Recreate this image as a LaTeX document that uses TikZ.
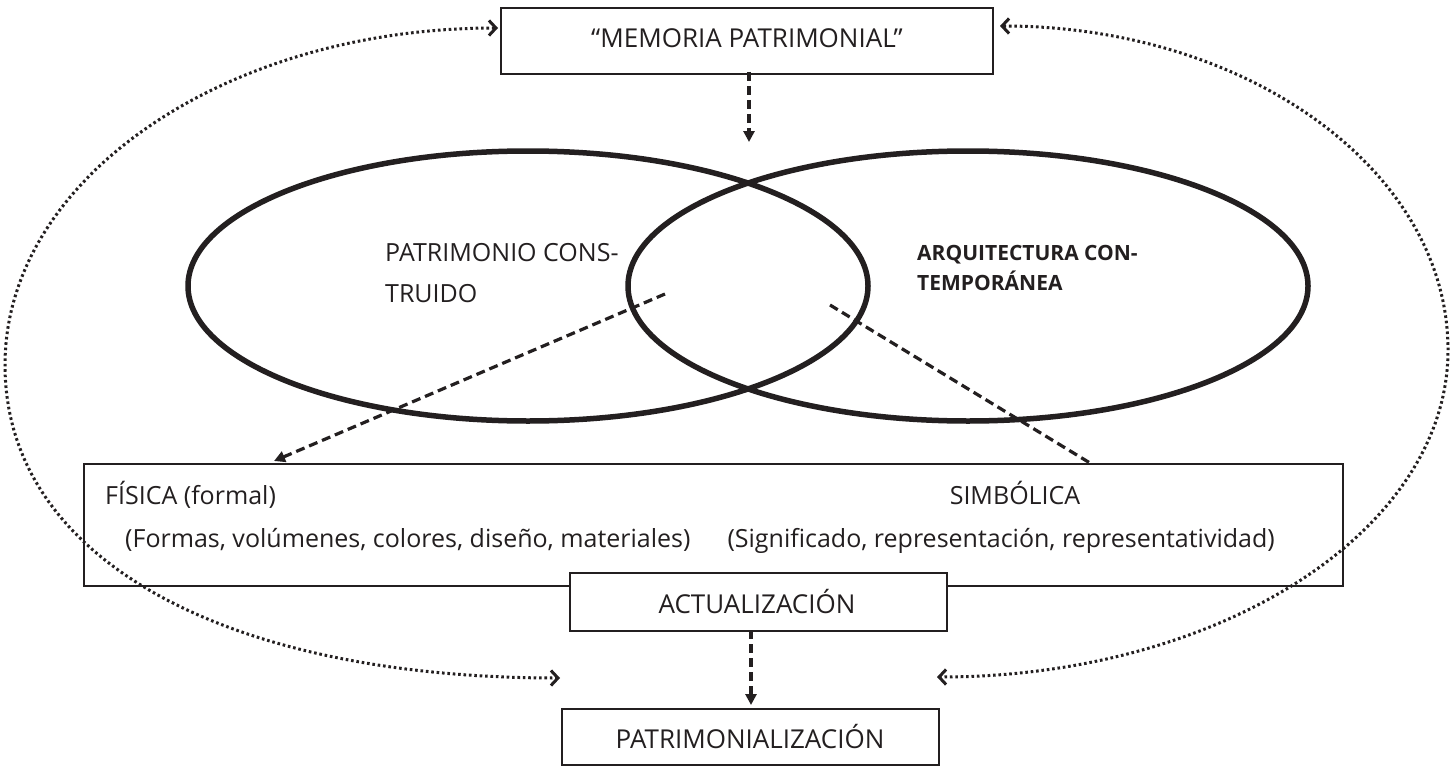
\documentclass[tikz,border=0pt]{standalone}
\usepackage{fontspec}
\setmainfont{Open Sans}
\usetikzlibrary{arrows.meta}
\definecolor{ink}{RGB}{35,31,32}
\tikzset{
  boxnode/.style={draw=ink, line width=2pt, fill=white, inner sep=0pt},
  txt/.style={text=ink, inner sep=0pt, font=\fontsize{25}{30}\selectfont},
  ctxt/.style={text=ink, inner sep=0pt, font=\fontsize{26}{31}\selectfont},
  etxt/.style={text=ink, inner sep=0pt, font=\fontsize{25}{30}\selectfont},
  btxt/.style={text=ink, inner sep=0pt, font=\fontsize{21}{25}\selectfont\bfseries},
  oval/.style={draw=ink, line width=5.5pt},
  dasharrow/.style={draw=ink, line width=3.2pt, dash pattern=on 9pt off 5pt, -{Triangle[length=11pt,width=11pt]}},
  dashline/.style={draw=ink, line width=3.2pt, dash pattern=on 9pt off 5pt},
  dotarrow/.style={draw=ink, line width=3pt, dash pattern=on 2.6pt off 2.8pt,
     {Straight Barb[length=7pt,width=15pt,line width=3pt]}-{Straight Barb[length=7pt,width=15pt,line width=3pt]}}
}
\begin{document}
\begin{tikzpicture}[x=1pt,y=-1pt]
\useasboundingbox (0,0) rectangle (1455,765);
\fill[white] (0,0) rectangle (1455,765);

% ellipses
\draw[oval] (528,286) ellipse [x radius=340, y radius=135];
\draw[oval] (968,286) ellipse [x radius=340, y radius=135];

% boxes
\node[boxnode, minimum width=492pt, minimum height=66pt] (mem) at (747,41) {};
\node[ctxt, anchor=base] (memt) at (747,48) {“MEMORIA PATRIMONIAL”};

\node[draw=ink, line width=2pt, inner sep=0pt, minimum width=1259pt, minimum height=122pt] (big) at (713.5,525) {};
\node[txt, anchor=base west] (fis) at (105,504) {FÍSICA (formal)};
\node[txt, anchor=base west] (fis2) at (125,547) {(Formas, volúmenes, colores, diseño, materiales)};
\node[txt, anchor=base east] (sim2) at (1275,547) {(Significado, representación, representatividad)};
\node[txt, anchor=base] (sim) at (1015,504) {SIMBÓLICA};

% ellipse texts
\node[etxt, anchor=base west] (pc1) at (385,261) {PATRIMONIO CONS-};
\node[etxt, anchor=base west] (pc2) at (385,302) {TRUIDO};
\node[btxt, anchor=base west] (ac1) at (917,260) {ARQUITECTURA CON-};
\node[btxt, anchor=base west] (ac2) at (917,290) {TEMPORÁNEA};

% dotted loops
\coordinate (lt) at (498,28);
\coordinate (lm) at (5,365);
\coordinate (lb) at (560,678);
\coordinate (rt) at (1000,26);
\coordinate (rm) at (1448,350);
\coordinate (rb) at (937,677);
\draw[dotarrow] (lt) .. controls (226,28) and (5,178) .. (lm)
   .. controls (5,560) and (227,678) .. (lb);
\draw[dotarrow] (rt) .. controls (1248,26) and (1448,171) .. (rm)
   .. controls (1448,531) and (1219,677) .. (rb);

\node[boxnode, minimum width=377pt, minimum height=58pt] (act) at (758.5,602) {};
\node[ctxt, anchor=base] (actt) at (757,613) {ACTUALIZACIÓN};
\node[boxnode, minimum width=377pt, minimum height=56pt] (pat) at (750.5,737) {};
\node[ctxt, anchor=base] (patt) at (750,748) {PATRIMONIALIZACIÓN};

% dashed arrows
\coordinate (m1) at (749,142);
\draw[dasharrow] (mem.south -| m1) ++(0,-3) -- (m1);
\coordinate (a1) at (751,705);
\draw[dasharrow] (act.south -| a1) ++(0,-2) -- (a1);
\coordinate (d1) at (665,294);
\coordinate (d1e) at (274,461);
\draw[dasharrow] (d1) -- (d1e);
\coordinate (d2) at (830,305);
\draw[dashline] (d2) -- (big.north -| 1090,0);
\end{tikzpicture}
\end{document}
